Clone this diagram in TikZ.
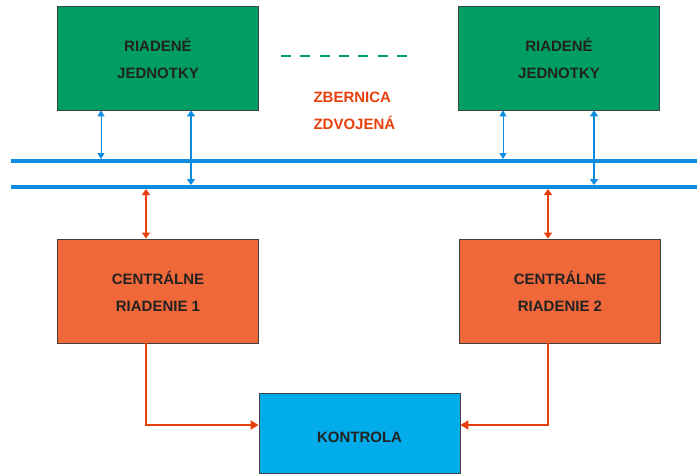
\documentclass[tikz,border=0pt]{standalone}
\usepackage{fontspec}
\setmainfont{Liberation Sans}
\usetikzlibrary{arrows.meta}
\definecolor{grn}{RGB}{0,158,98}
\definecolor{org}{RGB}{240,104,58}
\definecolor{kon}{RGB}{0,172,234}
\definecolor{bus}{RGB}{10,140,225}
\definecolor{orline}{RGB}{232,64,12}
\definecolor{txt}{RGB}{34,34,34}
\tikzset{
  lbl/.style={font=\fontsize{15}{27}\selectfont\bfseries},
  box/.style={draw=black!75, line width=0.8pt, minimum width=201pt, minimum height=104pt, inner sep=0pt,
    lbl, text=txt, align=center},
  busline/.style={draw=bus, line width=4pt},
  blu/.style={draw=bus, line width=1pt, {Triangle[width=7pt,length=6pt]}-{Triangle[width=7pt,length=6pt]}},
  bluthick/.style={draw=bus, line width=1.8pt, {Triangle[width=8pt,length=6pt]}-{Triangle[width=8pt,length=6pt]}},
  ora/.style={draw=orline, line width=1.8pt, {Triangle[width=8pt,length=6pt]}-{Triangle[width=8pt,length=6pt]}},
  oral/.style={draw=orline, line width=2pt, -{Triangle[width=9pt,length=8pt]}}
}
\begin{document}
\begin{tikzpicture}[x=1pt,y=-1pt]
\useasboundingbox (0,0) rectangle (697,474);
\node[box, fill=grn] (g1) at (158,58) {RIADENÉ\\JEDNOTKY};
\node[box, fill=grn] (g2) at (559,58) {RIADENÉ\\JEDNOTKY};
\node[box, fill=org] (c1) at (158,291) {CENTRÁLNE\\RIADENIE 1};
\node[box, fill=org] (c2) at (560,291) {CENTRÁLNE\\RIADENIE 2};
\node[box, fill=kon, minimum height=80pt] (k) at (359.5,433) {};
\node[lbl, text=txt] (kt) at (359.5,437) {KONTROLA};
\coordinate (d1) at (281,56);
\coordinate (d2) at (407,56);
\draw[draw=grn, line width=2pt, dash pattern=on 10pt off 9.33pt] (d1) -- (d2);
\node[lbl, text=orline, align=left, anchor=west] (zb) at (310,111) {ZBERNICA\\ZDVOJENÁ};
\coordinate (b1a) at (11,161); \coordinate (b1b) at (697,161);
\coordinate (b2a) at (11,187); \coordinate (b2b) at (697,187);
\draw[busline] (b1a) -- (b1b);
\draw[busline] (b2a) -- (b2b);
\draw[blu] (g1.south -| 101,0) -- (101,159);
\draw[bluthick] (g1.south -| 191,0) -- (191,185);
\draw[blu] (g2.south -| 503,0) -- (503,159);
\draw[bluthick] (g2.south -| 594,0) -- (594,185);
\draw[ora] (146,189) -- (c1.north -| 146,0);
\draw[ora] (548,189) -- (c2.north -| 548,0);
\draw[oral] (c1.south -| 146,0) |- (k.west |- 0,425);
\draw[oral] (c2.south -| 548,0) |- (k.east |- 0,425);
\end{tikzpicture}
\end{document}
